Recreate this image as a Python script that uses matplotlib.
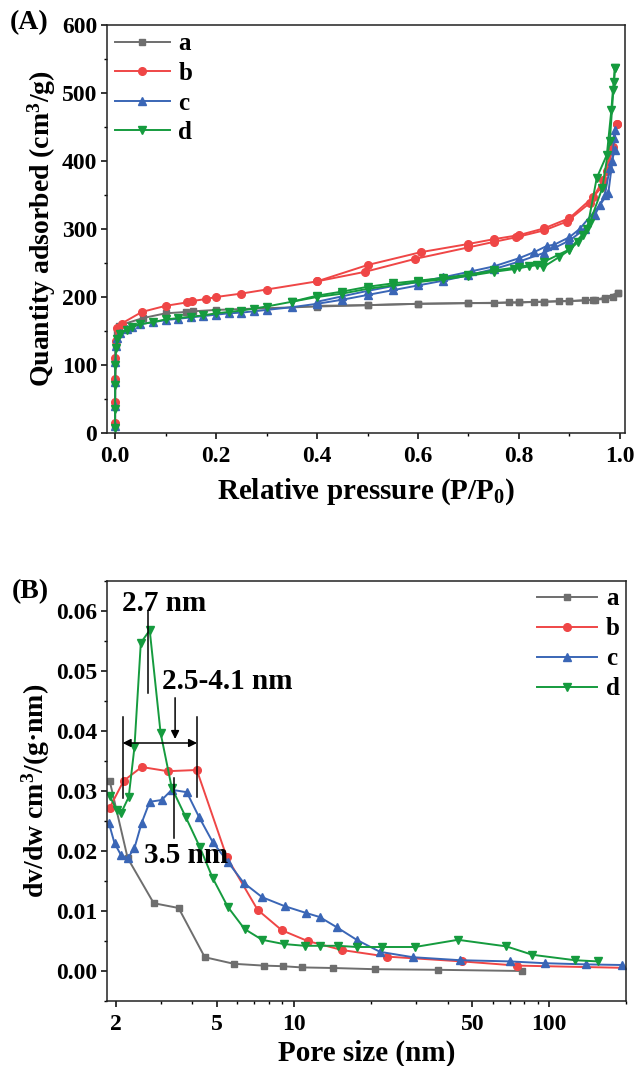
import matplotlib
matplotlib.use("Agg")
import matplotlib.pyplot as plt
from matplotlib.ticker import MultipleLocator, FixedLocator, NullFormatter

plt.rcParams["font.family"] = ["Liberation Serif", "DejaVu Serif"]
plt.rcParams["font.weight"] = "bold"
plt.rcParams["axes.labelweight"] = "bold"
plt.rcParams["mathtext.fontset"] = "custom"
plt.rcParams["mathtext.rm"] = "Liberation Serif:bold"
plt.rcParams["mathtext.it"] = "Liberation Serif:italic:bold"
plt.rcParams["mathtext.bf"] = "Liberation Serif:bold"

# ---- (A) N2 isotherms: relative pressure vs quantity adsorbed ----
a_ads_p = [0.00001, 0.00005, 0.0002, 0.0006, 0.0015, 0.003, 0.008, 0.055, 0.10, 0.14, 0.155, 0.20,
           0.40, 0.50, 0.60, 0.70, 0.75, 0.78, 0.80, 0.83, 0.85, 0.88, 0.90, 0.93, 0.947, 0.97, 0.986, 0.996]
a_ads_q = [12, 40, 75, 105, 130, 148, 158, 169, 176, 178, 179, 181,
           186, 188, 190, 191, 191, 192, 192, 193, 193, 194, 194, 195, 196, 197, 200, 206]
a_des_p = [0.996, 0.97, 0.95, 0.90, 0.85, 0.80, 0.70, 0.60, 0.50, 0.40]
a_des_q = [206, 199, 196, 194, 193, 192, 191, 190, 188, 187]

b_ads_p = [0.00001, 0.00005, 0.0002, 0.0006, 0.0015, 0.003, 0.013, 0.053, 0.10, 0.142, 0.152, 0.18, 0.20,
           0.25, 0.30, 0.40, 0.495, 0.594, 0.70, 0.75, 0.795, 0.85, 0.895, 0.94, 0.967, 0.984, 0.994]
b_ads_q = [15, 45, 80, 110, 135, 154, 161, 178, 187, 192, 194, 197, 200,
           205, 211, 223, 237, 256, 273, 281, 288, 298, 311, 338, 372, 421, 454]
b_des_p = [0.994, 0.986, 0.975, 0.964, 0.947, 0.90, 0.85, 0.80, 0.75, 0.70, 0.606, 0.50, 0.40]
b_des_q = [454, 421, 385, 362, 347, 316, 301, 291, 285, 278, 266, 247, 223]

c_ads_p = [0.00001, 0.00005, 0.0002, 0.0006, 0.0015, 0.004, 0.01, 0.024, 0.033, 0.05, 0.075, 0.10,
           0.125, 0.15, 0.175, 0.20, 0.225, 0.25, 0.275, 0.30, 0.35, 0.40, 0.45, 0.50, 0.55, 0.60,
           0.65, 0.70, 0.75, 0.80, 0.85, 0.90, 0.93, 0.95, 0.97, 0.98, 0.99]
c_ads_q = [10, 40, 75, 105, 128, 140, 147, 153, 156, 160, 163, 166,
           168, 170, 172, 174, 176, 177, 179, 181, 185, 190, 196, 203, 210, 217,
           224, 232, 241, 252, 265, 283, 300, 320, 350, 390, 416]
c_des_p = [0.99, 0.988, 0.985, 0.977, 0.96, 0.92, 0.90, 0.87, 0.855, 0.83, 0.80, 0.75, 0.707,
           0.65, 0.60, 0.55, 0.50, 0.45, 0.40]
c_des_q = [446, 434, 400, 353, 335, 300, 288, 277, 275, 266, 257, 245, 238,
           229, 222, 216, 209, 201, 193]

d_ads_p = [0.00001, 0.00005, 0.0002, 0.0006, 0.0015, 0.004, 0.01, 0.024, 0.033, 0.05, 0.075, 0.10,
           0.125, 0.15, 0.175, 0.20, 0.225, 0.25, 0.275, 0.30, 0.35, 0.40, 0.45, 0.50, 0.55, 0.60,
           0.65, 0.70, 0.75, 0.79, 0.82, 0.836, 0.848, 0.88, 0.90, 0.917, 0.927, 0.94, 0.965, 0.98, 0.99]
d_ads_q = [8, 35, 70, 100, 125, 138, 146, 152, 156, 160, 163, 167,
           169, 171, 173, 176, 178, 180, 183, 186, 193, 200, 205, 212, 217, 222,
           226, 231, 237, 241, 245, 247, 244, 259, 269, 281, 291, 309, 360, 430, 537]
d_des_p = [0.99, 0.988, 0.986, 0.983, 0.974, 0.954, 0.935, 0.90, 0.85, 0.80, 0.75, 0.70,
           0.65, 0.60, 0.55, 0.50, 0.45, 0.40, 0.35]
d_des_q = [537, 516, 504, 475, 409, 375, 300, 270, 252, 244, 239, 233,
           228, 224, 220, 215, 208, 202, 193]

# ---- (B) pore size distribution ----
a_d = [1.895, 2.23, 2.82, 3.53, 4.47, 5.81, 7.6, 9.04, 10.7, 14.2, 20.7, 36.7, 78]
a_v = [0.0317, 0.0188, 0.0113, 0.0105, 0.0023, 0.0012, 0.0009, 0.0008, 0.0006, 0.0005, 0.0003, 0.0002, 0.0000]

b_d = [1.895, 2.15, 2.53, 3.2, 4.16, 5.45, 7.2, 8.95, 11.3, 15.4, 23.1, 45.5, 74.8, 210]
b_v = [0.0272, 0.0317, 0.034, 0.0333, 0.0335, 0.019, 0.0102, 0.0068, 0.005, 0.0035, 0.0024, 0.0016, 0.0009, 0.0005]

c_d = [1.88, 1.98, 2.1, 2.23, 2.37, 2.53, 2.72, 3.03, 3.32, 3.8, 4.24, 4.8, 5.5, 6.35, 7.5, 9.2, 11.1,
       12.6, 14.7, 17.6, 21.7, 29.2, 44.7, 70, 96, 140, 193]
c_v = [0.0247, 0.0213, 0.0193, 0.0188, 0.0205, 0.0247, 0.0282, 0.0285, 0.0302, 0.0298, 0.0257, 0.0215,
       0.0182, 0.0147, 0.0123, 0.0108, 0.0097, 0.009, 0.0073, 0.0052, 0.0032, 0.0023, 0.0018, 0.0016,
       0.0013, 0.0011, 0.001]

d_d = [1.895, 2.02, 2.1, 2.25, 2.37, 2.51, 2.72, 3.0, 3.32, 3.76, 4.27, 4.8, 5.5, 6.4, 7.5, 9.1, 11.0,
       12.6, 14.9, 17.6, 22.1, 29.8, 43.9, 68, 86, 126, 155]
d_v = [0.0292, 0.0268, 0.0263, 0.029, 0.0373, 0.0547, 0.0568, 0.0397, 0.0305, 0.0257, 0.0207, 0.0155,
       0.0107, 0.007, 0.0052, 0.0045, 0.0042, 0.0042, 0.0042, 0.004, 0.004, 0.004, 0.0052, 0.0041,
       0.0027, 0.0018, 0.0016]

labels = ["a", "b", "c", "d"]
colors = ["#6E6E6E", "#EF4646", "#3A66B6", "#159B3E"]
markers = ["s", "o", "^", "v"]
msizes = [4.5, 5.5, 5.5, 5.5]

fig = plt.figure(figsize=(6.36, 10.66), dpi=100)
axA = fig.add_axes([107 / 636, 1 - 433 / 1066, 518 / 636, 408 / 1066])
axB = fig.add_axes([107 / 636, 1 - 1001 / 1066, 519 / 636, 420 / 1066])

iso = [(a_ads_p, a_ads_q, a_des_p, a_des_q), (b_ads_p, b_ads_q, b_des_p, b_des_q),
       (c_ads_p, c_ads_q, c_des_p, c_des_q), (d_ads_p, d_ads_q, d_des_p, d_des_q)]
for (ap, aq, dp, dq), lab, col, mk, ms in zip(iso, labels, colors, markers, msizes):
    axA.plot(ap, aq, color=col, marker=mk, ms=ms, lw=1.4, label=lab)
    axA.plot(dp, dq, color=col, marker=mk, ms=ms, lw=1.4)

psd = [(a_d, a_v), (b_d, b_v), (c_d, c_v), (d_d, d_v)]
for (x, y), lab, col, mk, ms in zip(psd, labels, colors, markers, msizes):
    axB.plot(x, y, color=col, marker=mk, ms=ms, lw=1.4, label=lab)

# axes styling
for ax in (axA, axB):
    for s in ax.spines.values():
        s.set_linewidth(1.1)
        s.set_color("#222222")
    ax.tick_params(which="major", direction="out", length=4, width=1.1, labelsize=17,
                   top=False, right=False, pad=3)
    ax.tick_params(which="minor", direction="out", length=2.5, width=1.0, top=False, right=False)
    ax.tick_params(axis="x", which="major", pad=5)

axA.set_xlim(-0.016, 1.01)
axA.set_ylim(0, 600)
axA.xaxis.set_minor_locator(MultipleLocator(0.1))
axA.yaxis.set_major_locator(MultipleLocator(100))
axA.yaxis.set_minor_locator(MultipleLocator(50))
axA.set_xticks([0, 0.2, 0.4, 0.6, 0.8, 1.0])
axA.set_xticklabels(["0.0", "0.2", "0.4", "0.6", "0.8", "1.0"])
axA.set_xlabel("Relative pressure (P/P$_0$)", fontsize=21, labelpad=7)
axA.set_ylabel("Quantity adsorbed (cm$^3$/g)", fontsize=20, labelpad=3)
axA.legend(loc="upper left", bbox_to_anchor=(0.0, 1.0), frameon=False, fontsize=18,
           handlelength=2.2, handletextpad=0.35, labelspacing=0.26, borderpad=0.2,
           borderaxespad=0.1)
fig.text(10 / 636, 1 - 23 / 1066, "(A)", fontsize=20, va="center", ha="left")

axB.set_xscale("log")
axB.set_xlim(1.85, 200)
axB.set_ylim(-0.005, 0.065)
axB.xaxis.set_major_locator(FixedLocator([2, 5, 10, 50, 100]))
axB.set_xticklabels(["2", "5", "10", "50", "100"])
axB.xaxis.set_minor_locator(FixedLocator([3, 4, 6, 7, 8, 9, 20, 30, 40, 60, 70, 80, 90, 200]))
axB.xaxis.set_minor_formatter(NullFormatter())
axB.yaxis.set_major_locator(MultipleLocator(0.01))
axB.yaxis.set_minor_locator(MultipleLocator(0.005))
axB.yaxis.set_major_formatter(matplotlib.ticker.FormatStrFormatter("%.2f"))
axB.set_xlabel("Pore size (nm)", fontsize=21, labelpad=4)
axB.set_ylabel("dv/dw cm$^3$/(g\u00b7nm)", fontsize=20, labelpad=3)
axB.legend(loc="upper right", bbox_to_anchor=(1.0, 1.0), frameon=False, fontsize=18,
           handlelength=2.4, handletextpad=0.35, labelspacing=0.28, borderpad=0.2,
           borderaxespad=0.05)
fig.text(12 / 636, 1 - 592 / 1066, "(B)", fontsize=20, va="center", ha="left")

# annotations in (B)
ann_kw = dict(color="black", lw=1.1)
axB.plot([2.67, 2.67], [0.0463, 0.060], **ann_kw)
axB.text(2.12, 0.0613, "2.7 nm", fontsize=21, va="center", ha="left")
axB.text(3.03, 0.0482, "2.5-4.1 nm", fontsize=21, va="center", ha="left")
axB.annotate("", xy=(3.42, 0.0382), xytext=(3.42, 0.046),
             arrowprops=dict(arrowstyle="-|>", color="black", lw=1.1, mutation_scale=12))
axB.annotate("", xy=(2.13, 0.038), xytext=(4.17, 0.038),
             arrowprops=dict(arrowstyle="<|-|>", color="black", lw=1.1, mutation_scale=12,
                             shrinkA=0, shrinkB=0))
axB.plot([2.13, 2.13], [0.0288, 0.0423], **ann_kw)
axB.plot([4.17, 4.17], [0.0290, 0.0423], **ann_kw)
axB.plot([3.40, 3.40], [0.0222, 0.0322], **ann_kw)
axB.text(2.58, 0.0193, "3.5 nm", fontsize=21, va="center", ha="left")

fig.savefig("out.png", dpi=100)
